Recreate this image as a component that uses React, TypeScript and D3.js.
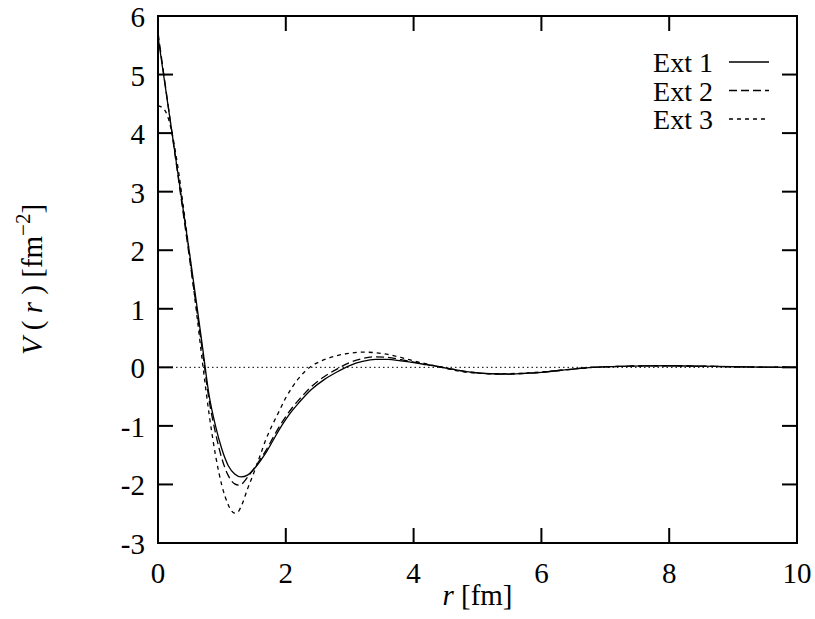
import React from "react";
import * as d3 from "d3";

const xTicks = [0, 2, 4, 6, 8, 10];
const yTicks = [-3, -2, -1, 0, 1, 2, 3, 4, 5, 6];

const ext1R = [0, 0.1, 0.2, 0.3, 0.4, 0.5, 0.6, 0.7, 0.8, 0.9, 1.0, 1.1, 1.2, 1.3, 1.4, 1.5, 1.6, 1.7, 1.8, 1.9, 2.0, 2.1, 2.2, 2.3, 2.4, 2.6, 2.8, 3.0, 3.2, 3.4, 3.6, 3.8, 4.0, 4.2, 4.4, 4.6, 4.8, 5.0, 5.2, 5.5, 5.8, 6.0, 6.4, 6.8, 7.2, 7.6, 8.0, 8.5, 9.0, 9.5, 10];
const ext1V = [5.65, 4.9, 4.15, 3.4, 2.65, 1.9, 1.12, 0.32, -0.48, -1.0, -1.4, -1.68, -1.82, -1.87, -1.84, -1.74, -1.6, -1.44, -1.25, -1.06, -0.89, -0.74, -0.61, -0.49, -0.38, -0.21, -0.08, 0.03, 0.1, 0.135, 0.135, 0.11, 0.08, 0.045, 0.01, -0.03, -0.07, -0.095, -0.11, -0.115, -0.1, -0.085, -0.04, 0.0, 0.015, 0.025, 0.027, 0.02, 0.01, 0.003, 0];

const ext2R = [0, 0.1, 0.2, 0.3, 0.4, 0.5, 0.6, 0.7, 0.8, 0.9, 1.0, 1.1, 1.2, 1.26, 1.3, 1.4, 1.5, 1.6, 1.7, 1.8, 1.9, 2.0, 2.1, 2.2, 2.3, 2.4, 2.6, 2.8, 3.0, 3.2, 3.4, 3.6, 3.8, 4.0, 4.2, 4.4, 4.6, 4.8, 5.0, 5.2, 5.5, 5.8, 6.0, 6.4, 6.8, 7.2, 7.6, 8.0, 8.5, 9.0, 9.5, 10];
const ext2V = [5.72, 4.93, 4.15, 3.37, 2.59, 1.81, 1.03, 0.24, -0.56, -1.12, -1.56, -1.85, -1.99, -2.01, -2.0, -1.88, -1.73, -1.57, -1.4, -1.2, -1.01, -0.84, -0.69, -0.56, -0.44, -0.33, -0.16, -0.03, 0.08, 0.15, 0.18, 0.17, 0.13, 0.09, 0.05, 0.01, -0.03, -0.07, -0.095, -0.11, -0.115, -0.1, -0.085, -0.04, 0.0, 0.015, 0.025, 0.027, 0.02, 0.01, 0.003, 0];

const ext3R = [0, 0.1, 0.2, 0.3, 0.4, 0.5, 0.6, 0.7, 0.8, 0.9, 1.0, 1.1, 1.15, 1.2, 1.25, 1.3, 1.4, 1.5, 1.6, 1.7, 1.8, 1.9, 2.0, 2.1, 2.2, 2.3, 2.4, 2.5, 2.6, 2.8, 3.0, 3.2, 3.4, 3.6, 3.8, 4.0, 4.2, 4.4, 4.6, 4.8, 5.0, 5.3, 5.6, 6.0, 6.4, 6.8, 7.2, 7.6, 8.0, 8.5, 9.0, 9.5, 10];
const ext3V = [4.47, 4.4, 4.1, 3.5, 2.72, 1.87, 0.97, 0.05, -0.8, -1.5, -2.02, -2.35, -2.45, -2.49, -2.47, -2.38, -2.08, -1.8, -1.5, -1.2, -0.96, -0.74, -0.52, -0.34, -0.19, -0.07, 0.02, 0.08, 0.13, 0.2, 0.24, 0.26, 0.25, 0.22, 0.17, 0.11, 0.06, 0.01, -0.04, -0.08, -0.1, -0.11, -0.105, -0.08, -0.04, 0, 0.015, 0.022, 0.025, 0.018, 0.01, 0.003, 0];

const legendLabels = ["Ext 1", "Ext 2", "Ext 3"];

const W = 815, H = 619;
const L = 158, R = 797, T = 16, B = 543;
const FONT = '"Times New Roman", Times, "Liberation Serif", "Nimbus Roman", serif';

export default function App() {
  const x = d3.scaleLinear().domain([0, 10]).range([L, R]);
  const y = d3.scaleLinear().domain([-3, 6]).range([B, T]);
  const line = d3
    .line<[number, number]>()
    .x((d) => x(d[0]))
    .y((d) => y(d[1]))
    .curve(d3.curveMonotoneX);

  const series = [
    { r: ext1R, v: ext1V, dash: "none" },
    { r: ext2R, v: ext2V, dash: "8,4" },
    { r: ext3R, v: ext3V, dash: "4,4" },
  ];
  const tickLen = 15;
  const ts = { fontFamily: FONT } as React.CSSProperties;

  return (
    <svg
      width={W}
      height={H}
      style={{ position: "absolute", left: 0, top: 0, background: "#fff", fontFamily: FONT }}
    >
      <rect x={0} y={0} width={W} height={H} fill="#fff" />
      <line x1={x(0)} x2={x(10)} y1={y(0)} y2={y(0)} stroke="#000" strokeWidth={1} strokeDasharray="1.5,3" />
      {series.map((s, i) => (
        <path
          key={i}
          d={line(s.r.map((r, j) => [r, s.v[j]] as [number, number])) || ""}
          fill="none"
          stroke="#000"
          strokeWidth={1.3}
          strokeDasharray={s.dash}
        />
      ))}
      <rect x={L} y={T} width={R - L} height={B - T} fill="none" stroke="#000" strokeWidth={2} />
      {xTicks.map((t) => (
        <g key={"x" + t}>
          <line x1={x(t)} x2={x(t)} y1={B} y2={B - tickLen} stroke="#000" strokeWidth={2} />
          <line x1={x(t)} x2={x(t)} y1={T} y2={T + tickLen} stroke="#000" strokeWidth={2} />
          <text x={x(t)} y={B + 40} fontSize={29} textAnchor="middle" style={ts}>
            {t}
          </text>
        </g>
      ))}
      {yTicks.map((t) => (
        <g key={"y" + t}>
          <line x1={L} x2={L + tickLen} y1={y(t)} y2={y(t)} stroke="#000" strokeWidth={2} />
          <line x1={R} x2={R - tickLen} y1={y(t)} y2={y(t)} stroke="#000" strokeWidth={2} />
          <text x={145} y={y(t) + 11} fontSize={29} textAnchor="end" style={ts}>
            {t}
          </text>
        </g>
      ))}
      <text x={(L + R) / 2} y={605} fontSize={29} textAnchor="middle" style={ts}>
        <tspan fontStyle="italic">r</tspan> [fm]
      </text>
      <text
        transform={`translate(42, ${(T + B) / 2}) rotate(-90)`}
        fontSize={29}
        textAnchor="middle"
        style={ts}
      >
        <tspan fontStyle="italic">V</tspan> ( <tspan fontStyle="italic">r</tspan> ) [fm
        <tspan dy={-12} fontSize={21}>−2</tspan>
        <tspan dy={12}>]</tspan>
      </text>
      {legendLabels.map((lab, i) => {
        const yy = 62 + i * 28.5;
        return (
          <g key={lab}>
            <text x={713} y={yy + 10} fontSize={28} textAnchor="end" style={ts}>
              {lab}
            </text>
            <line x1={729} x2={769} y1={yy} y2={yy} stroke="#000" strokeWidth={1.3} strokeDasharray={series[i].dash} />
          </g>
        );
      })}
    </svg>
  );
}
